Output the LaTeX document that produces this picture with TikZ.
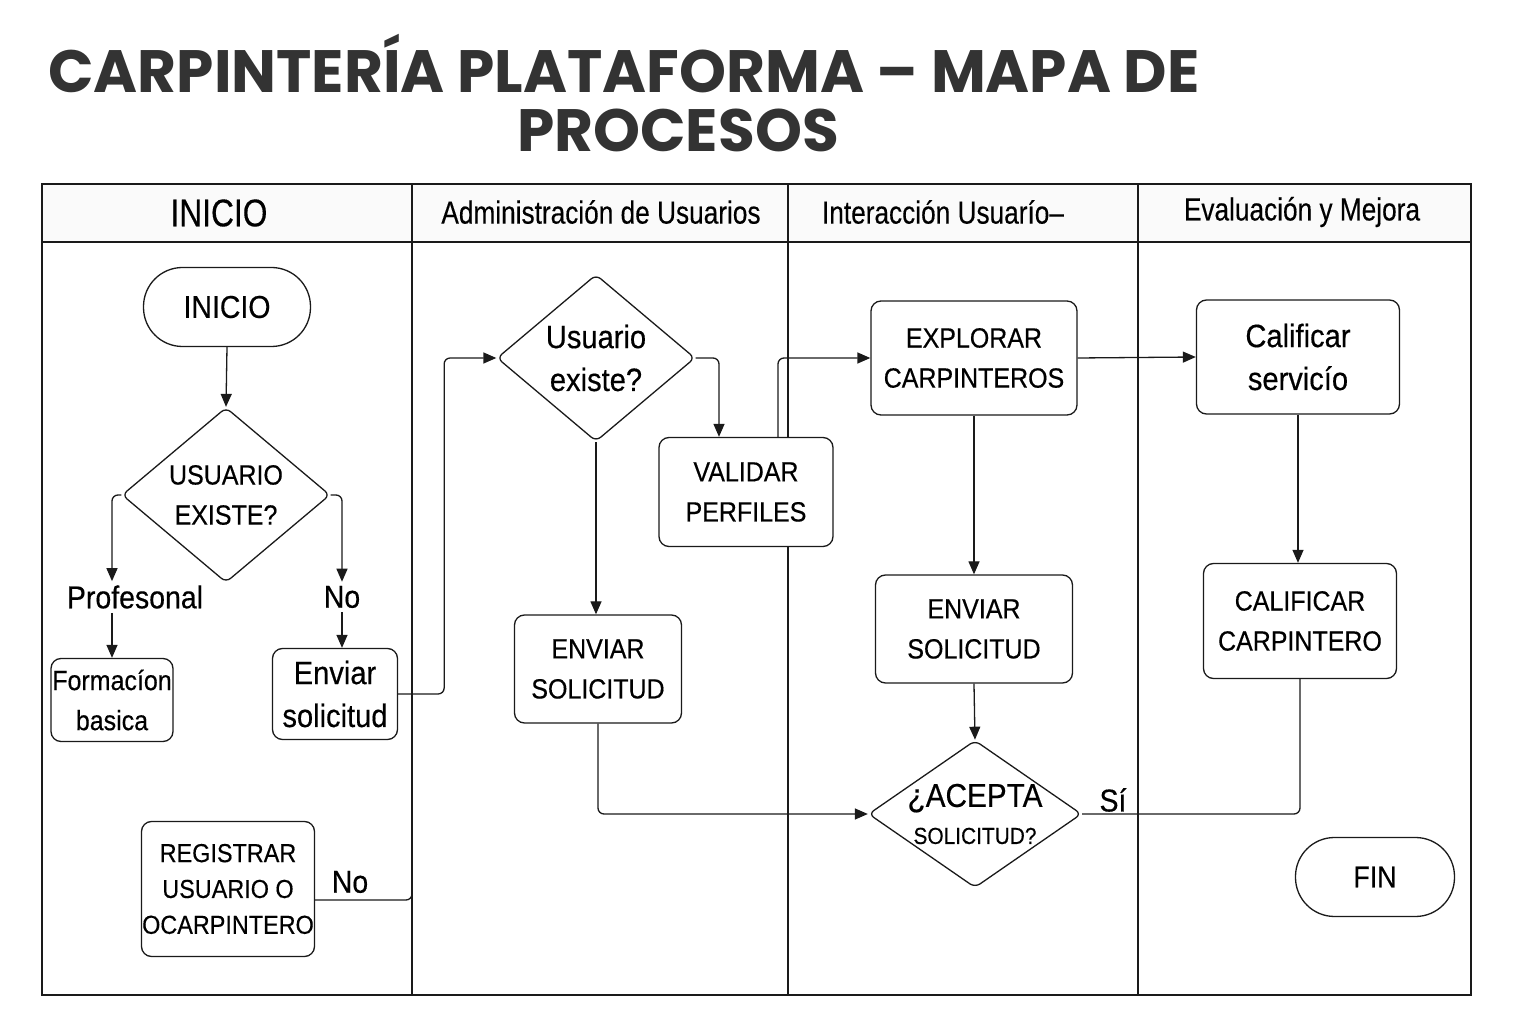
\documentclass[tikz,border=0pt]{standalone}
\usepackage{fontspec}
\usepackage{tikz}
\usetikzlibrary{shapes.geometric, arrows.meta, calc}
\newfontfamily\nodefont{Liberation Sans}[FakeStretch=0.9, FakeBold=0.4]
\newfontfamily\headfont{Liberation Sans}[FakeStretch=0.82, FakeBold=0.3]
\newfontfamily\titlefont{Poppins}
\definecolor{titlegray}{HTML}{333333}
\definecolor{linegray}{HTML}{1A1A1A}
\tikzstyle{nodetext} = [font=\nodefont\fontsize{7.9}{11.4}\selectfont, text=black]
\tikzstyle{lowtext} = [font=\nodefont\fontsize{9.2}{12.2}\selectfont]
\tikzstyle{terminal} = [nodetext, draw=linegray, fill=white, line width=0.13mm, rectangle, rounded corners=3.9mm, minimum height=7.9mm, inner sep=0pt, align=center]
\tikzstyle{process} = [nodetext, draw=linegray, fill=white, line width=0.13mm, rectangle, rounded corners=1mm, inner sep=0pt, align=center]
\tikzstyle{decision} = [nodetext, draw=linegray, fill=white, line width=0.13mm, diamond, rounded corners=0.6mm, inner sep=0pt, align=center]
\tikzstyle{lanehead} = [font=\headfont\fontsize{9.1}{11}\selectfont]
\tikzstyle{flowlabel} = [font=\nodefont\fontsize{9}{11}\selectfont, inner sep=1pt]
\tikzstyle{flecha} = [draw=linegray, line width=0.13mm, rounded corners=0.6mm, -{Triangle[length=1.3mm, width=1.1mm]}]
\tikzstyle{linea} = [draw=linegray, line width=0.13mm, rounded corners=0.6mm]

\begin{document}
\begin{tikzpicture}[x=0.1mm, y=-0.1mm]
\useasboundingbox (0,0) rectangle (1536,1024);

%title
\node[font=\titlefont\bfseries\fontsize{17}{20}\selectfont, text=titlegray, inner sep=0pt, anchor=base] (title1) at (624,93) {CARPINTERÍA PLATAFORMA – MAPA DE};
\node[font=\titlefont\bfseries\fontsize{17}{20}\selectfont, text=titlegray, inner sep=0pt, anchor=base] (title2) at (678,152) {PROCESOS};

%lanes
\fill[gray!4] (42,184) rectangle (1471,242);
\draw[linegray, line width=0.15mm] (42,184) rectangle (1471,995);
\draw[linegray, line width=0.18mm] (42,242) -- (1471,242);
\foreach \lx in {412,788,1138}
	\draw[linegray, line width=0.13mm] (\lx,184) -- (\lx,995);

\node[lanehead, font=\headfont\fontsize{11}{12}\selectfont] (h1) at (219,213) {INICIO};
\node[lanehead] (h2) at (601,212) {Administración de Usuarios};
\node[lanehead] (h3) at (943,212) {Interacción Usuarío–};
\node[lanehead] (h4) at (1302,212) {Evaluación y Mejora};

%lane INICIO
\node[terminal, minimum width=16.7mm, font=\nodefont\fontsize{9}{11}\selectfont] (inicio) at (227,307) {INICIO};
\node[decision, minimum width=20.8mm, minimum height=17.5mm] (dec1) at (226,495) {USUARIO\\EXISTE?};
\node[flowlabel] (prof) at (135,597) {Profesonal};
\node[flowlabel] (no1) at (342,597) {No};
\node[process, minimum width=12.2mm, minimum height=8.3mm] (form) at (112,700) {Formacíon\\basica};
\node[process, lowtext, minimum width=12.5mm, minimum height=9.1mm] (env1) at (335,694) {Enviar\\solicitud};
\node[process, minimum width=17.3mm, minimum height=13.5mm, font=\nodefont\fontsize{7.4}{10.2}\selectfont] (reg) at (228,889) {REGISTRAR\\USUARIO O\\OCARPINTERO};
\node[flowlabel] (no2) at (350,882) {No};
\coordinate (lanejoin) at (412,689);

%lane Administracion
\node[decision, lowtext, minimum width=19.8mm, minimum height=16.5mm] (dec2) at (596,358) {Usuario\\existe?};
\node[process, minimum width=17.4mm, minimum height=10.9mm] (val) at (746,492) {VALIDAR\\PERFILES};
\node[process, minimum width=16.7mm, minimum height=10.8mm] (env2) at (598,669) {ENVIAR\\SOLICITUD};

%lane Interaccion
\node[process, minimum width=20.6mm, minimum height=11.4mm] (expl) at (974,358) {EXPLORAR\\CARPINTEROS};
\node[process, minimum width=19.7mm, minimum height=10.8mm] (env3) at (974,629) {ENVIAR\\SOLICITUD};
\node[decision, minimum width=21.3mm, minimum height=13.6mm, inner sep=-1.2mm] (acc) at (975,814) {{\fontsize{9.4}{11}\selectfont ¿ACEPTA}\\[-0.3mm]{\fontsize{6.6}{8}\selectfont SOLICITUD?}};
\node[flowlabel] (si) at (1113,800) {Sí};

%lane Evaluacion
\node[process, lowtext, minimum width=20.3mm, minimum height=11.4mm] (cal1) at (1298,357) {Calificar\\servicío};
\node[process, minimum width=19.3mm, minimum height=11.5mm] (cal2) at (1300,621) {CALIFICAR\\CARPINTERO};
\node[terminal, minimum width=15.9mm, font=\nodefont\fontsize{8.5}{11}\selectfont] (fin) at (1375,877) {FIN};

%connectors
\draw[flecha] (inicio.south) -- (dec1.north);
\draw[flecha] (dec1.west) -| (form.north |- prof.north);
\draw[flecha] (form.north |- prof.south) -- (form.north);
\draw[flecha] (dec1.east) -| (no1.north);
\draw[flecha] (no1.south) -- (no1.south |- env1.north);
\draw[flecha] (env1.east) -- ++(46,0) |- (dec2.west);
\draw[linea] ($(reg.east)+(0,11)$) -| (lanejoin);
\draw[flecha] (dec2.east) -| ($(val.north)+(-27,0)$);
\draw[flecha] (dec2.south) -- (dec2.south |- env2.north);
\draw[flecha] ($(val.north)+(32,0)$) |- (expl.west);
\draw[flecha] (env2.south) |- (acc.west);
\draw[flecha] (expl.east) -- (cal1.west);
\draw[flecha] (expl.south) -- (env3.north);
\draw[flecha] (env3.south) -- (acc.north);
\draw[linea] (acc.east) -| (cal2.south);
\draw[flecha] (cal1.south) -- (cal1.south |- cal2.north);

\end{tikzpicture}
\end{document}
